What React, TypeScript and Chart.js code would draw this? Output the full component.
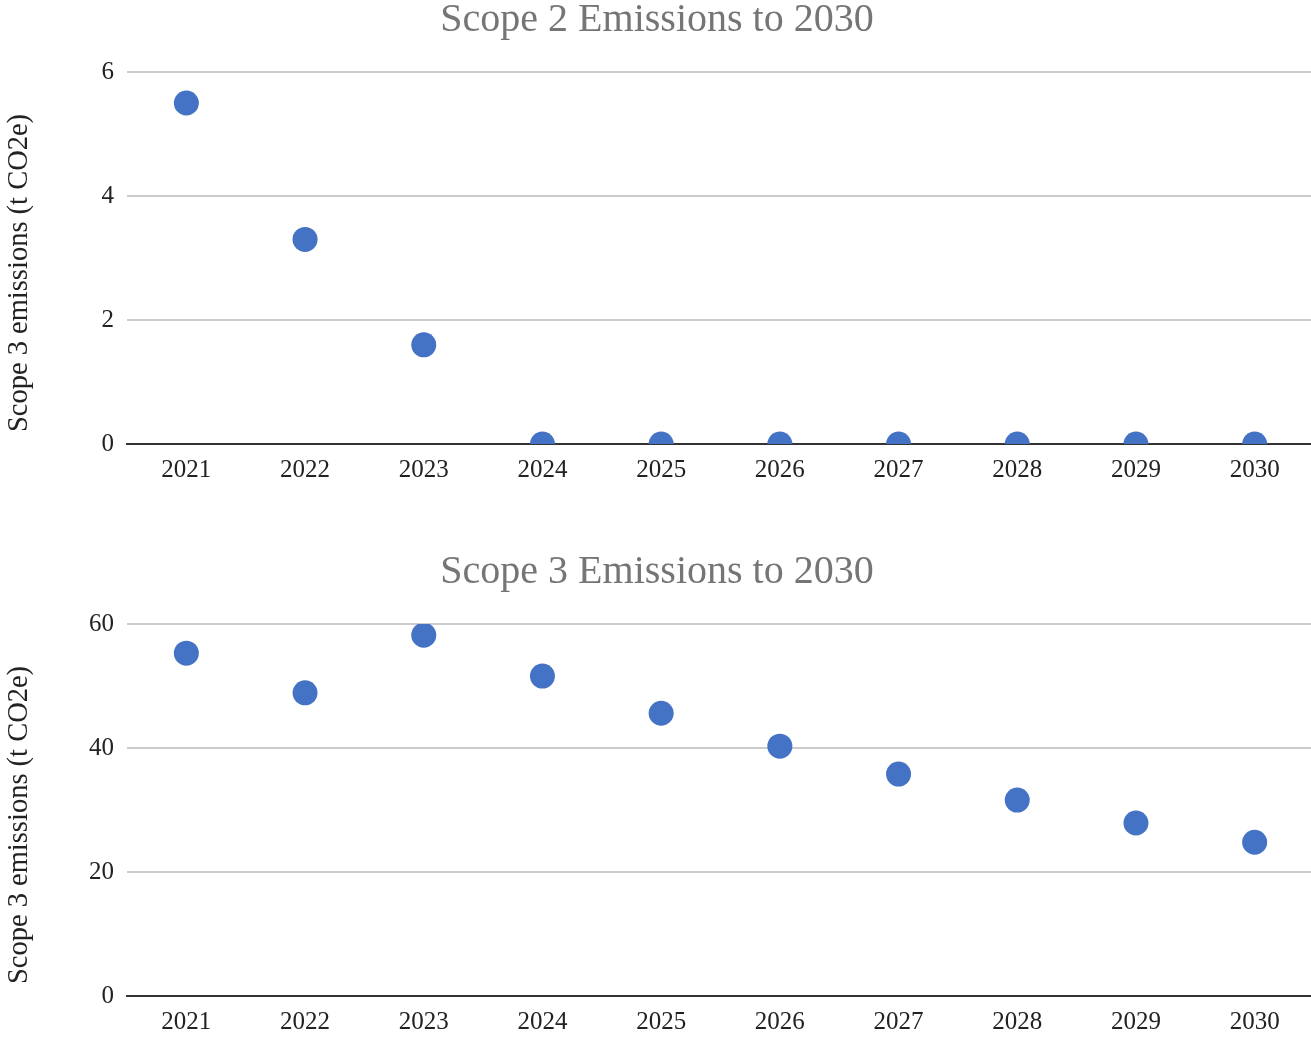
import React, { useEffect, useRef } from "react";
import { Chart, registerables } from "chart.js";

Chart.register(...registerables);

const years = ["2021", "2022", "2023", "2024", "2025", "2026", "2027", "2028", "2029", "2030"];
const scope2Values = [5.5, 3.3, 1.6, 0, 0, 0, 0, 0, 0, 0];
const scope3Values = [55.3, 48.9, 58.2, 51.6, 45.6, 40.3, 35.8, 31.6, 27.9, 24.8];
const scope2Title = "Scope 2 Emissions to 2030";
const scope3Title = "Scope 3 Emissions to 2030";
const yAxisTitle = "Scope 3 emissions (t CO2e)";
const scope2Max = 6;
const scope2Step = 2;
const scope3Max = 60;
const scope3Step = 20;

const SERIF = "'Liberation Serif', 'Times New Roman', Times, serif";
const W = 1314;
const H = 485;

const yTitlePlugin = {
  id: "yTitleOffset",
  afterDraw(chart: any, _args: any, opts: any) {
    const { ctx, chartArea } = chart;
    ctx.save();
    ctx.font = `${opts.size}px ${SERIF}`;
    ctx.fillStyle = opts.color;
    ctx.textAlign = "center";
    ctx.textBaseline = "middle";
    ctx.translate(opts.x, (chartArea.top + chartArea.bottom) / 2 + opts.dy);
    ctx.rotate(-Math.PI / 2);
    ctx.fillText(opts.text, 0, 0);
    ctx.restore();
  },
};

function makeConfig(title: string, values: number[], max: number, step: number): any {
  return {
    type: "line",
    data: {
      labels: years,
      datasets: [
        {
          data: values,
          showLine: false,
          pointRadius: 12.5,
          pointHoverRadius: 12.5,
          pointBackgroundColor: "#4472C4",
          pointBorderWidth: 0,
          borderColor: "#4472C4",
          backgroundColor: "#4472C4",
        },
      ],
    },
    plugins: [yTitlePlugin],
    options: {
      responsive: false,
      animation: false,
      layout: { padding: 0, autoPadding: false },
      plugins: {
        legend: { display: false },
        tooltip: { enabled: false },
        title: {
          display: true,
          text: title,
          color: "#757575",
          font: { family: SERIF, size: 40, weight: "normal", lineHeight: 1 },
          padding: { top: 0, bottom: 32 },
        },
        yTitleOffset: { text: yAxisTitle, size: 28.5, color: "#222222", x: 20, dy: 15 },
      },
      scales: {
        x: {
          offset: true,
          grid: { display: false, drawTicks: false },
          border: { display: true, color: "#333333", width: 2 },
          ticks: {
            color: "#222222",
            padding: 11,
            maxRotation: 0,
            font: { family: SERIF, size: 25 },
          },
          afterFit: (scale: any) => {
            scale.height = H - 444;
            scale.paddingLeft = 0;
            scale.paddingRight = 0;
          },
        },
        y: {
          min: 0,
          max: max,
          grid: { color: "#cccccc", lineWidth: 2, drawTicks: false },
          border: { display: false },
          ticks: {
            stepSize: step,
            color: "#222222",
            padding: 13,
            font: { family: SERIF, size: 25 },
          },
          title: { display: false },
          afterFit: (scale: any) => {
            scale.width = 127;
          },
        },
      },
    },
  };
}

function ChartCanvas({ title, values, max, step, top }: { title: string; values: number[]; max: number; step: number; top: number }) {
  const ref = useRef<HTMLCanvasElement | null>(null);
  useEffect(() => {
    if (!ref.current) return;
    const chart = new Chart(ref.current, makeConfig(title, values, max, step));
    return () => chart.destroy();
  }, [title, values, max, step]);
  return (
    <canvas
      ref={ref}
      width={W}
      height={H}
      style={{ position: "absolute", left: 0, top, width: W, height: H }}
    />
  );
}

export default function App() {
  return (
    <div style={{ position: "absolute", left: 0, top: 0, width: 1311, height: 1037, background: "#ffffff", overflow: "hidden" }}>
      <ChartCanvas title={scope2Title} values={scope2Values} max={scope2Max} step={scope2Step} top={0} />
      <ChartCanvas title={scope3Title} values={scope3Values} max={scope3Max} step={scope3Step} top={552} />
    </div>
  );
}
